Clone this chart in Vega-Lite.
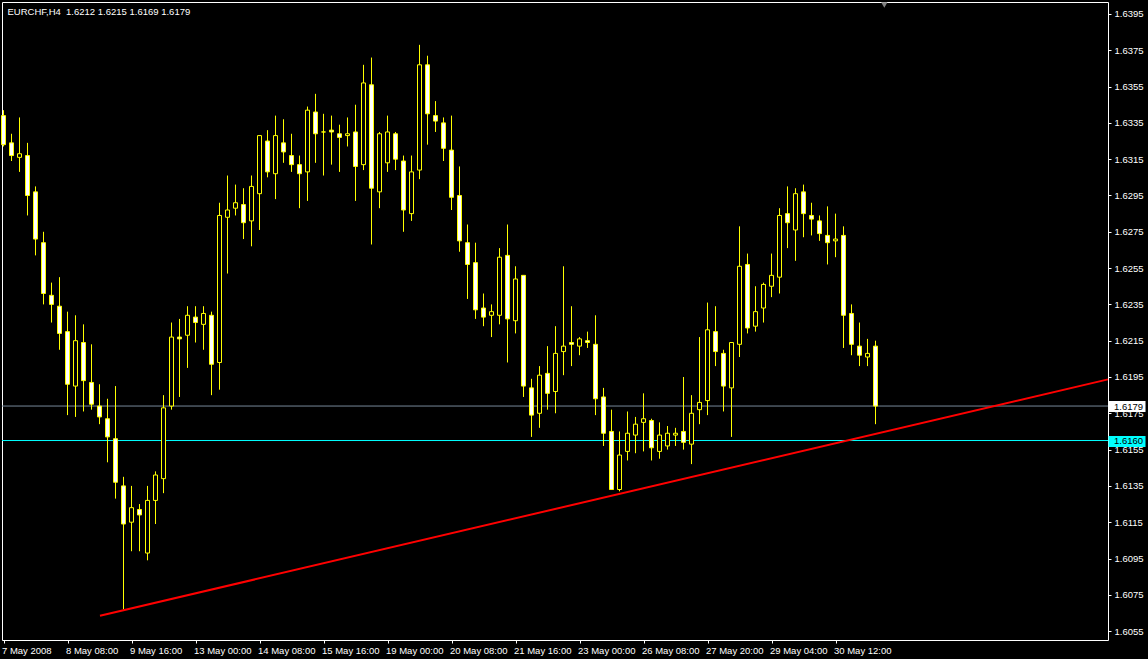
{
  "$schema": "https://vega.github.io/schema/vega-lite/v6.json",
  "autosize": {"type": "none"},
  "width": 1106,
  "height": 638,
  "padding": {"left": 2, "top": 2, "right": 40, "bottom": 19},
  "background": "black",
  "config": {
    "view": {"stroke": "white", "strokeWidth": 1, "fill": "black"},
    "axis": {"labelFont": "Liberation Sans", "labelFontSize": 9.5, "labelColor": "white", "tickColor": "white", "tickSize": 3, "domain": false, "grid": false}
  },
  "datasets": {
    "candles": [
      {"i":0,"o":1.6339,"h":1.6342,"l":1.6322,"c":1.6323},
      {"i":1,"o":1.6324,"h":1.6329,"l":1.6314,"c":1.6317},
      {"i":2,"o":1.6316,"h":1.6338,"l":1.6308,"c":1.6318},
      {"i":3,"o":1.6317,"h":1.6324,"l":1.6284,"c":1.6295},
      {"i":4,"o":1.6297,"h":1.6300,"l":1.6262,"c":1.6271},
      {"i":5,"o":1.6269,"h":1.6275,"l":1.6235,"c":1.6241},
      {"i":6,"o":1.6240,"h":1.6247,"l":1.6225,"c":1.6235},
      {"i":7,"o":1.6234,"h":1.6250,"l":1.6210,"c":1.6219},
      {"i":8,"o":1.6220,"h":1.6231,"l":1.6174,"c":1.6191},
      {"i":9,"o":1.6190,"h":1.6229,"l":1.6173,"c":1.6215},
      {"i":10,"o":1.6214,"h":1.6224,"l":1.6176,"c":1.6193},
      {"i":11,"o":1.6192,"h":1.6213,"l":1.6177,"c":1.6180},
      {"i":12,"o":1.6179,"h":1.6191,"l":1.6169,"c":1.6173},
      {"i":13,"o":1.6172,"h":1.6183,"l":1.6148,"c":1.6162},
      {"i":14,"o":1.6161,"h":1.6190,"l":1.6128,"c":1.6137},
      {"i":15,"o":1.6135,"h":1.6140,"l":1.6067,"c":1.6114},
      {"i":16,"o":1.6115,"h":1.6135,"l":1.6099,"c":1.6123},
      {"i":17,"o":1.6122,"h":1.6125,"l":1.6099,"c":1.6119},
      {"i":18,"o":1.6098,"h":1.6135,"l":1.6094,"c":1.6127},
      {"i":19,"o":1.6127,"h":1.6143,"l":1.6114,"c":1.6141},
      {"i":20,"o":1.6139,"h":1.6185,"l":1.6131,"c":1.6178},
      {"i":21,"o":1.6179,"h":1.6225,"l":1.6177,"c":1.6217},
      {"i":22,"o":1.6217,"h":1.6227,"l":1.6184,"c":1.6216},
      {"i":23,"o":1.6218,"h":1.6234,"l":1.6200,"c":1.6229},
      {"i":24,"o":1.6228,"h":1.6234,"l":1.6214,"c":1.6225},
      {"i":25,"o":1.6224,"h":1.6234,"l":1.6210,"c":1.6230},
      {"i":26,"o":1.6229,"h":1.6231,"l":1.6185,"c":1.6202},
      {"i":27,"o":1.6203,"h":1.6291,"l":1.6188,"c":1.6284},
      {"i":28,"o":1.6283,"h":1.6306,"l":1.6252,"c":1.6287},
      {"i":29,"o":1.6288,"h":1.6301,"l":1.6284,"c":1.6291},
      {"i":30,"o":1.6290,"h":1.6299,"l":1.6271,"c":1.6280},
      {"i":31,"o":1.6281,"h":1.6306,"l":1.6267,"c":1.6300},
      {"i":32,"o":1.6296,"h":1.6328,"l":1.6276,"c":1.6328},
      {"i":33,"o":1.6325,"h":1.6331,"l":1.6305,"c":1.6308},
      {"i":34,"o":1.6307,"h":1.6339,"l":1.6293,"c":1.6328},
      {"i":35,"o":1.6324,"h":1.6337,"l":1.6313,"c":1.6319},
      {"i":36,"o":1.6317,"h":1.6329,"l":1.6308,"c":1.6312},
      {"i":37,"o":1.6312,"h":1.6317,"l":1.6288,"c":1.6307},
      {"i":38,"o":1.6308,"h":1.6344,"l":1.6292,"c":1.6342},
      {"i":39,"o":1.6341,"h":1.6351,"l":1.6313,"c":1.6329},
      {"i":40,"o":1.6330,"h":1.6340,"l":1.6306,"c":1.6330},
      {"i":41,"o":1.6331,"h":1.6339,"l":1.6312,"c":1.6330},
      {"i":42,"o":1.6329,"h":1.6334,"l":1.6308,"c":1.6327},
      {"i":43,"o":1.6328,"h":1.6338,"l":1.6322,"c":1.6329},
      {"i":44,"o":1.6330,"h":1.6345,"l":1.6292,"c":1.6311},
      {"i":45,"o":1.6312,"h":1.6367,"l":1.6309,"c":1.6357},
      {"i":46,"o":1.6356,"h":1.6371,"l":1.6268,"c":1.6299},
      {"i":47,"o":1.6297,"h":1.6330,"l":1.6288,"c":1.6329},
      {"i":48,"o":1.6313,"h":1.6339,"l":1.6308,"c":1.6330},
      {"i":49,"o":1.6329,"h":1.6330,"l":1.6309,"c":1.6315},
      {"i":50,"o":1.6314,"h":1.6317,"l":1.6275,"c":1.6287},
      {"i":51,"o":1.6285,"h":1.6317,"l":1.6281,"c":1.6308},
      {"i":52,"o":1.6309,"h":1.6378,"l":1.6304,"c":1.6367},
      {"i":53,"o":1.6367,"h":1.6372,"l":1.6323,"c":1.6340},
      {"i":54,"o":1.6339,"h":1.6347,"l":1.6330,"c":1.6336},
      {"i":55,"o":1.6335,"h":1.6338,"l":1.6314,"c":1.6321},
      {"i":56,"o":1.6320,"h":1.6339,"l":1.6287,"c":1.6294},
      {"i":57,"o":1.6295,"h":1.6311,"l":1.6264,"c":1.6270},
      {"i":58,"o":1.6269,"h":1.6279,"l":1.6238,"c":1.6257},
      {"i":59,"o":1.6258,"h":1.6269,"l":1.6227,"c":1.6232},
      {"i":60,"o":1.6233,"h":1.6241,"l":1.6223,"c":1.6228},
      {"i":61,"o":1.6229,"h":1.6235,"l":1.6217,"c":1.6231},
      {"i":62,"o":1.6229,"h":1.6266,"l":1.6224,"c":1.6261},
      {"i":63,"o":1.6262,"h":1.6279,"l":1.6203,"c":1.6227},
      {"i":64,"o":1.6226,"h":1.6256,"l":1.6219,"c":1.6249},
      {"i":65,"o":1.6251,"h":1.6251,"l":1.6184,"c":1.6190},
      {"i":66,"o":1.6189,"h":1.6194,"l":1.6162,"c":1.6174},
      {"i":67,"o":1.6175,"h":1.6201,"l":1.6167,"c":1.6196},
      {"i":68,"o":1.6197,"h":1.6212,"l":1.6177,"c":1.6186},
      {"i":69,"o":1.6187,"h":1.6223,"l":1.6175,"c":1.6208},
      {"i":70,"o":1.6209,"h":1.6256,"l":1.6196,"c":1.6212},
      {"i":71,"o":1.6214,"h":1.6234,"l":1.6201,"c":1.6213},
      {"i":72,"o":1.6212,"h":1.6217,"l":1.6207,"c":1.6216},
      {"i":73,"o":1.6215,"h":1.6220,"l":1.6211,"c":1.6214},
      {"i":74,"o":1.6213,"h":1.6229,"l":1.6174,"c":1.6183},
      {"i":75,"o":1.6184,"h":1.6189,"l":1.6157,"c":1.6164},
      {"i":76,"o":1.6165,"h":1.6177,"l":1.6133,"c":1.6133},
      {"i":77,"o":1.6133,"h":1.6165,"l":1.6132,"c":1.6152},
      {"i":78,"o":1.6154,"h":1.6176,"l":1.6149,"c":1.6164},
      {"i":79,"o":1.6163,"h":1.6173,"l":1.6153,"c":1.6169},
      {"i":80,"o":1.6170,"h":1.6186,"l":1.6154,"c":1.6172},
      {"i":81,"o":1.6171,"h":1.6172,"l":1.6149,"c":1.6156},
      {"i":82,"o":1.6154,"h":1.6170,"l":1.6150,"c":1.6163},
      {"i":83,"o":1.6157,"h":1.6168,"l":1.6155,"c":1.6164},
      {"i":84,"o":1.6163,"h":1.6167,"l":1.6157,"c":1.6164},
      {"i":85,"o":1.6165,"h":1.6195,"l":1.6155,"c":1.6159},
      {"i":86,"o":1.6158,"h":1.6185,"l":1.6147,"c":1.6175},
      {"i":87,"o":1.6177,"h":1.6217,"l":1.6169,"c":1.6181},
      {"i":88,"o":1.6182,"h":1.6236,"l":1.6174,"c":1.6221},
      {"i":89,"o":1.6220,"h":1.6234,"l":1.6201,"c":1.6209},
      {"i":90,"o":1.6208,"h":1.6210,"l":1.6176,"c":1.6190},
      {"i":91,"o":1.6189,"h":1.6214,"l":1.6162,"c":1.6214},
      {"i":92,"o":1.6213,"h":1.6278,"l":1.6206,"c":1.6256},
      {"i":93,"o":1.6257,"h":1.6263,"l":1.6219,"c":1.6222},
      {"i":94,"o":1.6223,"h":1.6245,"l":1.6220,"c":1.6231},
      {"i":95,"o":1.6233,"h":1.6247,"l":1.6225,"c":1.6246},
      {"i":96,"o":1.6245,"h":1.6263,"l":1.6239,"c":1.6251},
      {"i":97,"o":1.6250,"h":1.6288,"l":1.6241,"c":1.6284},
      {"i":98,"o":1.6285,"h":1.6300,"l":1.6266,"c":1.6280},
      {"i":99,"o":1.6276,"h":1.6299,"l":1.6259,"c":1.6296},
      {"i":100,"o":1.6297,"h":1.6301,"l":1.6272,"c":1.6285},
      {"i":101,"o":1.6284,"h":1.6291,"l":1.6273,"c":1.6282},
      {"i":102,"o":1.6281,"h":1.6284,"l":1.6270,"c":1.6274},
      {"i":103,"o":1.6273,"h":1.6289,"l":1.6257,"c":1.6269},
      {"i":104,"o":1.6270,"h":1.6285,"l":1.6261,"c":1.6271},
      {"i":105,"o":1.6273,"h":1.6278,"l":1.6211,"c":1.6229},
      {"i":106,"o":1.6230,"h":1.6235,"l":1.6207,"c":1.6213},
      {"i":107,"o":1.6212,"h":1.6225,"l":1.6201,"c":1.6207},
      {"i":108,"o":1.6206,"h":1.6216,"l":1.6201,"c":1.6208},
      {"i":109,"o":1.6212,"h":1.6215,"l":1.6169,"c":1.6179}
    ],
    "trend": [
      {"i":12.06,"p":1.60635},
      {"i":138.06,"p":1.61937}
    ],
    "levels": [
      {"p":1.6179,"label":"1.6179"},
      {"p":1.6160,"label":"1.6160"}
    ],
    "shift": [
      {"i":110.1,"p":1.64000}
    ]
  },
  "encoding": {
    "x": {
      "field": "i",
      "type": "quantitative",
      "scale": {"domain": [-0.1875, 138.0625], "nice": false, "zero": false, "padding": 0},
      "axis": {
        "orient": "bottom",
        "values": [0, 8, 16, 24, 32, 40, 48, 56, 64, 72, 80, 88, 96, 104],
        "labelExpr": "['7 May 2008','8 May 08:00','9 May 16:00','13 May 00:00','14 May 08:00','15 May 16:00','19 May 00:00','20 May 08:00','21 May 16:00','23 May 00:00','26 May 08:00','27 May 20:00','29 May 04:00','30 May 12:00'][round(datum.value/8)]",
        "labelAlign": "left",
        "labelOffset": -2,
        "labelPadding": 2,
        "labelOverlap": false,
        "labelFlush": false,
        "labelBound": false,
        "title": "EURCHF,H4\u00a0 1.6212 1.6215 1.6169 1.6179",
        "titleX": 5,
        "titleY": -626,
        "titleAlign": "left",
        "titleBaseline": "alphabetic",
        "titleAngle": 0,
        "titleColor": "#FFFFFF",
        "titleFont": "Liberation Sans",
        "titleFontSize": 9.5,
        "titleFontWeight": "normal",
        "titleLimit": 0
      }
    },
    "y": {
      "field": "l",
      "type": "quantitative",
      "scale": {"domain": [1.60501, 1.64016], "nice": false, "zero": false, "padding": 0},
      "axis": {
        "orient": "right",
        "title": null,
        "values": [1.6179, 1.616, 1.6055, 1.6075, 1.6095, 1.6115, 1.6135, 1.6155, 1.6175, 1.6195, 1.6215, 1.6235, 1.6255, 1.6275, 1.6295, 1.6315, 1.6335, 1.6355, 1.6375, 1.6395],
        "format": ".4f",
        "labelOverlap": false,
        "labelBaseline": "middle",
        "labelPadding": {"condition": {"test": "abs(datum.value - 1.6179) < 0.00001 || abs(datum.value - 1.616) < 0.00001", "value": -31.5}, "value": 3},
        "labelColor": {"condition": {"test": "abs(datum.value - 1.6179) < 0.00001 || abs(datum.value - 1.616) < 0.00001", "value": "#000000"}, "value": "#FFFFFF"},
        "tickSize": {"condition": {"test": "abs(datum.value - 1.6179) < 0.00001 || abs(datum.value - 1.616) < 0.00001", "value": 37}, "value": 3},
        "tickWidth": {"condition": {"test": "abs(datum.value - 1.6179) < 0.00001 || abs(datum.value - 1.616) < 0.00001", "value": 11}, "value": 1},
        "tickColor": {"condition": [{"test": "abs(datum.value - 1.6179) < 0.00001", "value": "#FFFFFF"}, {"test": "abs(datum.value - 1.616) < 0.00001", "value": "#00FFFF"}], "value": "#FFFFFF"}
      }
    }
  },
  "layer": [
    {
      "data": {"name": "levels"},
      "mark": {"type": "rule", "strokeWidth": 1},
      "encoding": {
        "x": null,
        "y": {"field": "p", "type": "quantitative"},
        "stroke": {"field": "label", "type": "nominal", "scale": {"domain": ["1.6179", "1.6160"], "range": ["#778899", "#00FFFF"]}, "legend": null}
      }
    },
    {
      "data": {"name": "candles"},
      "mark": {"type": "rule", "color": "#FFFF00", "strokeWidth": 1},
      "encoding": {
        "y": {"field": "l", "type": "quantitative"},
        "y2": {"field": "h"}
      }
    },
    {
      "data": {"name": "candles"},
      "mark": {"type": "bar", "width": 4, "stroke": "#FFFF00", "strokeWidth": 1, "cornerRadius": 0},
      "encoding": {
        "y": {"field": "o", "type": "quantitative"},
        "y2": {"field": "c"},
        "fill": {"condition": {"test": "datum.c < datum.o", "value": "#FFFFFF"}, "value": "#000000"}
      }
    },
    {
      "data": {"name": "trend"},
      "mark": {"type": "line", "color": "#FF0000", "strokeWidth": 2},
      "encoding": {
        "y": {"field": "p", "type": "quantitative"}
      }
    },
    {
      "data": {"name": "shift"},
      "mark": {"type": "point", "shape": "triangle-down", "filled": true, "color": "#808080", "size": 40, "opacity": 1},
      "encoding": {
        "y": {"field": "p", "type": "quantitative"}
      }
    }
  ]
}
